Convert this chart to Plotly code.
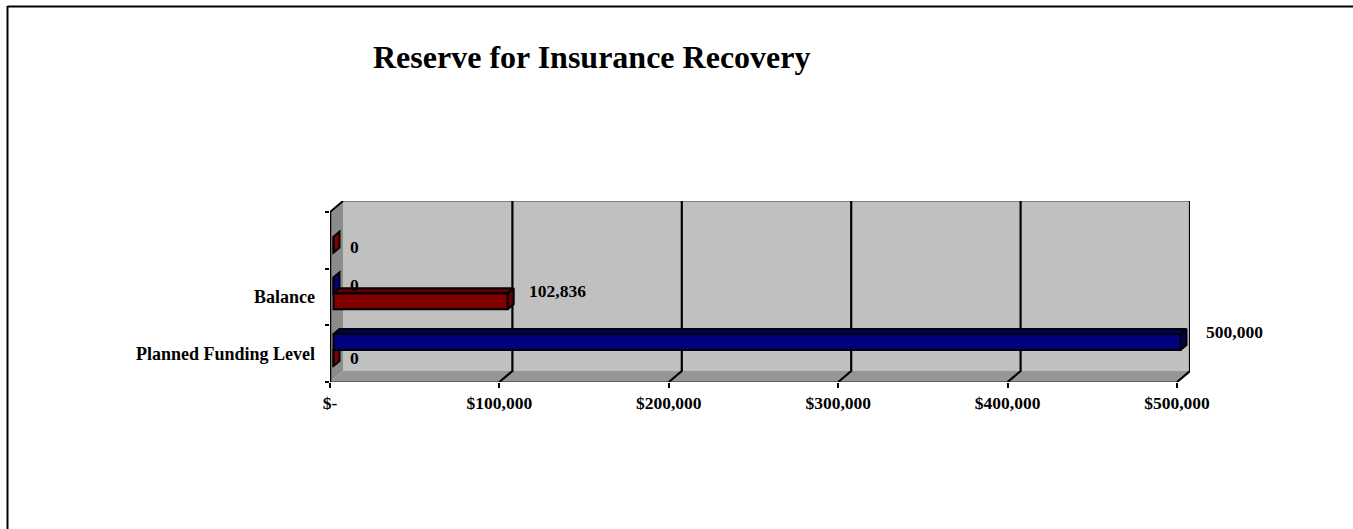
import plotly.graph_objects as go

categories = ["Planned Funding Level", "Balance", " "]
planned_values = [500000, 0, None]
balance_values = [0, 102836, 0]
x_ticks = [0, 100000, 200000, 300000, 400000, 500000]
x_tick_labels = ["$-", "$100,000", "$200,000", "$300,000", "$400,000", "$500,000"]
title_text = "Reserve for Insurance Recovery"

W, H = 1353, 529
X0, X1, XB = 330, 1177, 1190      # front $0, front max, back max (pixels)
YF, YT, YTF = 382, 201, 212       # floor front, wall top, front top
PX = 500000 / (X1 - X0)           # axis units per pixel
PY = 3 / (YF - YTF)
DX, DY = 13 * PX, 11 * PY         # depth of the box
BX, BY = 6 * PX, 5 * PY           # depth of a bar
BASE = 3.5 * PX
BAR_W = 16 * PY
BLUE_OFF, RED_OFF = 0.065, 0.065 - BAR_W
BLUE, BLUE_TOP = "#000080", "#000058"
RED, RED_TOP = "#800000", "#600000"
FONT = dict(family="Liberation Serif", size=17.5, color="#000000", weight=700)
CAT_FONT = dict(family="Liberation Serif", size=18, color="#000000", weight=700)

xmax = 500000 + DX
ylo, yhi = -0.5, 2.5


def path(pts):
    return "M " + " L ".join(f"{x},{y}" for x, y in pts) + " Z"


shapes = [
    # page frame
    dict(type="line", xref="paper", yref="paper", x0=7.5 / W, x1=1, y0=1 - 6.5 / H, y1=1 - 6.5 / H,
         line=dict(color="#000000", width=2)),
    dict(type="line", xref="paper", yref="paper", x0=7.5 / W, x1=7.5 / W, y0=0, y1=1 - 6 / H,
         line=dict(color="#000000", width=2)),
    # back wall, side wall, floor
    dict(type="path", path=path([(DX, ylo + DY), (xmax, ylo + DY), (xmax, yhi + DY), (DX, yhi + DY)]),
         fillcolor="#C0C0C0", line=dict(width=0), layer="below"),
    dict(type="path", path=path([(0, ylo), (DX, ylo + DY), (DX, yhi + DY), (0, yhi)]),
         fillcolor="#8C8C8C", line=dict(width=0), layer="below"),
    dict(type="path", path=path([(0, ylo), (500000, ylo), (xmax, ylo + DY), (DX, ylo + DY)]),
         fillcolor="#969696", line=dict(width=0), layer="below"),
    dict(type="line", x0=DX, x1=xmax, y0=yhi + DY, y1=yhi + DY, line=dict(color="#808080", width=2), layer="below"),
    dict(type="line", x0=0, x1=500000, y0=ylo, y1=ylo, line=dict(color="#606060", width=2), layer="below"),
    dict(type="line", x0=0, x1=0, y0=ylo, y1=yhi, line=dict(color="#000000", width=2.5), layer="below"),
    dict(type="line", x0=0, x1=DX, y0=yhi, y1=yhi + DY, line=dict(color="#000000", width=2), layer="below"),
]
for v in x_ticks[1:]:
    shapes.append(dict(type="path", path=f"M {v},{ylo} L {v + DX},{ylo + DY} L {v + DX},{yhi + DY}",
                       line=dict(color="#000000", width=2.2), layer="below"))


def side_face(v, i, off):
    x = BASE + v
    lo, hi = i + off, i + off + BAR_W
    return [(x, lo), (x + BX, lo + BY), (x + BX, hi + BY), (x, hi)]


def top_face(v, i, off):
    x = BASE + v
    hi = i + off + BAR_W
    return [(BASE, hi), (x, hi), (x + BX, hi + BY), (BASE + BX, hi + BY)]


fig = go.Figure()
series = [("Planned Funding Level", planned_values, BLUE_OFF, BLUE, BLUE_TOP),
          ("Balance", balance_values, RED_OFF, RED, RED_TOP)]

# zero-valued bars show only their end face, behind the real bars
for name, vals, off, col, top in series:
    for i, v in enumerate(vals):
        if v == 0:
            shapes.append(dict(type="path", path=path(side_face(v, i, off)), fillcolor=col,
                               line=dict(color="#000000", width=2), layer="below"))

for name, vals, off, col, top in reversed(series):
    fig.add_trace(go.Bar(name=name, orientation="h", y=list(range(3)), x=vals, base=BASE,
                         offset=off, width=BAR_W, marker=dict(color=col, line=dict(color="#000000", width=2)),
                         showlegend=False))
for name, vals, off, col, top in series:
    for i, v in enumerate(vals):
        if v:
            for face in (top_face(v, i, off), side_face(v, i, off)):
                fig.add_trace(go.Scatter(x=[p[0] for p in face] + [face[0][0]], y=[p[1] for p in face] + [face[0][1]],
                                         mode="lines", fill="toself", fillcolor=top,
                                         line=dict(color="#000000", width=2), showlegend=False, hoverinfo="skip"))

annotations = []
label_shift = {(0, 0): (27, 10), (0, 1): (18, 0), (1, 0): (18, 0), (1, 1): (23, 10), (1, 2): (18, -2)}
for s, (name, vals, off, col, top) in enumerate(series):
    for i, v in enumerate(vals):
        if v is None:
            continue
        xs, ys = label_shift[(s, i)]
        annotations.append(dict(x=v, y=i + off + BAR_W / 2, text=f"{v:,}", showarrow=False, xanchor="left",
                                yanchor="middle", xshift=xs, yshift=ys, font=FONT))

fig.update_layout(
    template="none",
    width=W, height=H, margin=dict(l=0, r=0, t=0, b=0, pad=0), paper_bgcolor="#FFFFFF", plot_bgcolor="rgba(0,0,0,0)",
    showlegend=False, barmode="overlay", shapes=shapes, annotations=annotations,
    title=dict(text=title_text, x=373 / W, xanchor="left", xref="paper", y=1 - 57 / H, yanchor="middle",
               yref="paper", font=dict(family="Liberation Serif", size=32, color="#000000", weight=700)),
    xaxis=dict(domain=[X0 / W, XB / W], range=[0, xmax], showgrid=False, zeroline=False, showline=False,
               automargin=False,
               tickmode="array", tickvals=x_ticks, ticktext=x_tick_labels, ticks="outside", ticklen=5, tickwidth=1.5,
               tickcolor="#000000", tickfont=FONT),
    yaxis=dict(domain=[1 - YF / H, 1 - YT / H], range=[ylo, yhi + DY], showgrid=False, zeroline=False, showline=False,
               tickmode="array", tickvals=[0, 1, 2], ticktext=categories, ticks="", tickfont=CAT_FONT,
               ticklabelstandoff=14, automargin=False,
               minor=dict(tickmode="array", tickvals=[-0.5, 0.5, 1.5, 2.5], ticks="outside", ticklen=4, tickwidth=1.5,
                          tickcolor="#000000", showgrid=False)),
)
fig.write_html("out.html", config=dict(displayModeBar=False),
               post_script="document.body.style.margin='0';document.documentElement.style.overflow='hidden';")
